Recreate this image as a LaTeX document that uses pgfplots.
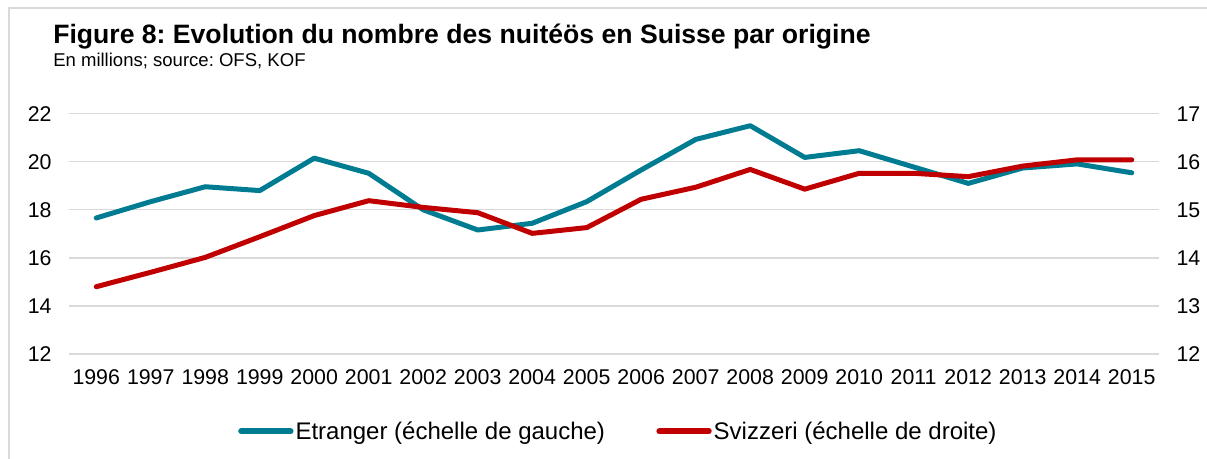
\documentclass[border=0pt]{standalone}
\usepackage{fontspec}
\setmainfont{Liberation Sans}
\usepackage{pgfplots}
\pgfplotsset{compat=1.18}
\definecolor{cblue}{RGB}{0,124,146}
\definecolor{cred}{RGB}{192,0,0}
\definecolor{cgrid}{RGB}{217,217,217}
\frenchspacing
\begin{document}
\begin{tikzpicture}
\useasboundingbox (0,0) rectangle (905.25pt,344.25pt);
% frame
\draw[cgrid, line width=1.2pt] ({9*0.75pt},0) -- ({9*0.75pt},{(459-8)*0.75pt}) -- (905.25pt,{(459-8)*0.75pt});
% title
\node[anchor=base west, inner sep=0pt] at ({53*0.75pt},{(459-44)*0.75pt}) {\fontsize{19.95}{22}\selectfont\bfseries Figure 8: Evolution du nombre des nuitéös en Suisse par origine};
\node[anchor=base west, inner sep=0pt] at ({53*0.75pt},{(459-67)*0.75pt}) {\fontsize{13.9}{16}\selectfont En millions; source: OFS, KOF};
\begin{axis}[
  at={({69*0.75pt},{(459-354)*0.75pt})}, anchor=south west,
  scale only axis, width={1090*0.75pt}, height={240.3*0.75pt},
  xmin=1995.5, xmax=2015.5, ymin=12, ymax=22,
  xtick={1996,...,2015}, ytick={12,14,...,22},
  xticklabel style={/pgf/number format/1000 sep={}, yshift=-8pt},
  yticklabel style={xshift=-9.6pt},
  /pgf/number format/assume math mode=true,
  tick label style={font=\fontsize{16}{18}\selectfont},
  axis line style={draw=none}, tick style={draw=none},
  ymajorgrids, grid style={cgrid, line width=1pt},
  clip=false,
]
\addplot[cblue, line width=3.75pt, line join=round, line cap=round] coordinates {
(1996,17.66) (1997,18.34) (1998,18.96) (1999,18.80) (2000,20.15)
(2001,19.52) (2002,18.00) (2003,17.16) (2004,17.44) (2005,18.34)
(2006,19.66) (2007,20.93) (2008,21.50) (2009,20.18) (2010,20.46)
(2011,19.78) (2012,19.10) (2013,19.74) (2014,19.91) (2015,19.54)};
\end{axis}
\begin{axis}[
  at={({69*0.75pt},{(459-354)*0.75pt})}, anchor=south west,
  scale only axis, width={1090*0.75pt}, height={240.3*0.75pt},
  xmin=1995.5, xmax=2015.5, ymin=12, ymax=17,
  hide x axis, axis y line*=right,
  ytick={12,...,17},
  yticklabel style={xshift=9.6pt},
  /pgf/number format/assume math mode=true,
  tick label style={font=\fontsize{16}{18}\selectfont},
  axis line style={draw=none}, tick style={draw=none},
  clip=false,
  legend columns=2,
  legend style={at={(0.504,-0.322)}, anchor=center, draw=none, fill=none,
    font=\fontsize{18}{21}\selectfont,
    column sep=0pt, nodes={inner sep=1.5pt},
    /tikz/every even column/.append style={column sep=37pt}},
  legend image code/.code={\draw[#1, line width=4.5pt, line cap=round] (0pt,0pt) -- (37pt,0pt);},
]
\addlegendimage{cblue}
\addlegendentry{Etranger (échelle de gauche)}
\addplot[cred, line width=3.75pt, line join=round, line cap=round] coordinates {
(1996,13.40) (1997,13.70) (1998,14.01) (1999,14.44) (2000,14.88)
(2001,15.19) (2002,15.05) (2003,14.94) (2004,14.51) (2005,14.63)
(2006,15.22) (2007,15.47) (2008,15.84) (2009,15.43) (2010,15.76)
(2011,15.76) (2012,15.69) (2013,15.91) (2014,16.04) (2015,16.04)};
\addlegendentry{Svizzeri (échelle de droite)}
\end{axis}
\end{tikzpicture}
\end{document}
